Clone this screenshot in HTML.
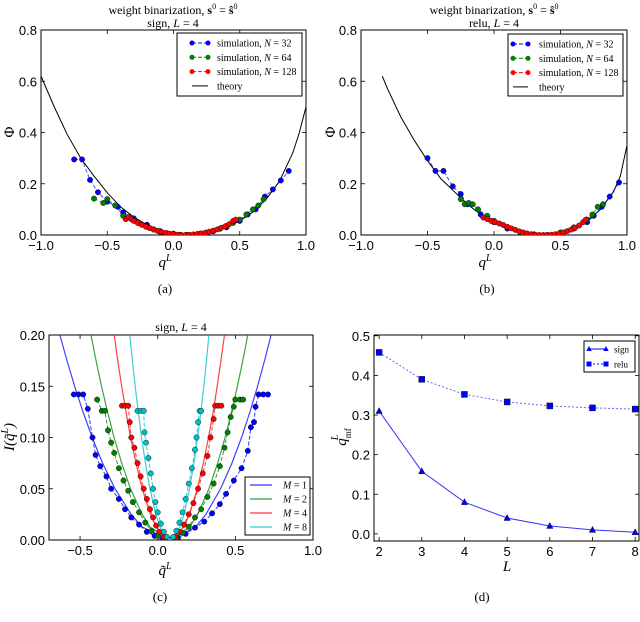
<!DOCTYPE html>
<html><head><meta charset="utf-8"><style>
body{margin:0;background:#fff;}
svg{display:block;}
text{font-family:"Liberation Sans",sans-serif;}
text.serif,.serif text,.serif tspan{font-family:"Liberation Serif",serif;}
</style></head><body>
<svg id="fig" width="640" height="622" viewBox="0 0 640 622" xmlns="http://www.w3.org/2000/svg">
<g class="serif" font-size="12" text-anchor="middle" fill="#000">
<text x="173" y="14">weight binarization, <tspan font-weight="bold">s</tspan><tspan font-size="8" dy="-5">0</tspan><tspan dy="5"> = </tspan><tspan font-weight="bold">ŝ</tspan><tspan font-size="8" dy="-5">0</tspan></text>
<text x="173" y="27">sign, <tspan font-style="italic">L</tspan> = 4</text>
<text x="494" y="14">weight binarization, <tspan font-weight="bold">s</tspan><tspan font-size="8" dy="-5">0</tspan><tspan dy="5"> = </tspan><tspan font-weight="bold">ŝ</tspan><tspan font-size="8" dy="-5">0</tspan></text>
<text x="494" y="27">relu, <tspan font-style="italic">L</tspan> = 4</text>
<text x="181" y="331">sign, <tspan font-style="italic">L</tspan> = 4</text>
<text x="165" y="293" font-size="13">(a)</text>
<text x="487" y="293" font-size="13">(b)</text>
<text x="160" y="601" font-size="13">(c)</text>
<text x="482" y="601" font-size="13">(d)</text>
<text x="165" y="267" font-size="15" font-style="italic">q<tspan font-size="10" dy="-6">L</tspan></text>
<text x="485" y="267" font-size="15" font-style="italic">q<tspan font-size="10" dy="-6">L</tspan></text>
<text transform="translate(14,132) rotate(-90)" font-size="15">Φ</text>
<text transform="translate(335,132) rotate(-90)" font-size="15">Φ</text>
<text x="165" y="575" font-size="15" font-style="italic">q̃<tspan font-size="10" dy="-6">L</tspan></text>
<text transform="translate(14,437) rotate(-90)" font-size="15" font-style="italic">I(q̃<tspan font-size="10" dy="-6">L</tspan><tspan dy="6">)</tspan></text>
<text x="507" y="571" font-size="15" font-style="italic">L</text>
<text transform="translate(346,437) rotate(-90)" font-size="15" font-style="italic">q<tspan font-size="9" dy="5" font-style="normal">mf</tspan><tspan font-size="10" dx="-12" dy="-13">L</tspan></text>
</g>
</svg>
<script>
// ---- Panel (a) data ----
const aTheoryQ=[-1,-0.9,-0.8,-0.7,-0.6,-0.5,-0.4,-0.3,-0.2,-0.1,0,0.1,0.2,0.3,0.4,0.5,0.6,0.7,0.8,0.9,0.95,1.0];
const aTheoryPhi=[0.62,0.5,0.39,0.3,0.23,0.165,0.11,0.07,0.04,0.018,0.005,0,0.003,0.013,0.03,0.055,0.09,0.14,0.21,0.32,0.4,0.5];
const aN32Q=[-0.75,-0.69,-0.63,-0.57,-0.5,-0.42,-0.38,-0.3,-0.2,-0.1,0,0.1,0.2,0.3,0.4,0.5,0.56,0.62,0.69,0.75,0.81,0.87];
const aN32Phi=[0.295,0.295,0.215,0.167,0.13,0.11,0.088,0.065,0.04,0.015,0.005,0,0.005,0.015,0.03,0.055,0.08,0.1,0.15,0.178,0.213,0.25];
const aN64Q=[-0.6,-0.53,-0.5,-0.44,-0.38,-0.3,-0.25,-0.2,-0.15,-0.1,-0.05,0,0.05,0.1,0.15,0.2,0.25,0.3,0.35,0.4,0.45,0.5,0.55,0.6,0.64,0.68];
const aN64Phi=[0.142,0.125,0.14,0.115,0.075,0.058,0.045,0.032,0.022,0.013,0.007,0.003,0.001,0,0.001,0.004,0.009,0.015,0.024,0.035,0.047,0.06,0.08,0.1,0.115,0.14];
const aN128Q=[-0.36,-0.34,-0.32,-0.3,-0.27,-0.24,-0.21,-0.18,-0.15,-0.12,-0.09,-0.06,-0.03,0,0.03,0.06,0.09,0.12,0.15,0.18,0.21,0.24,0.27,0.3,0.33,0.36,0.39,0.42,0.45,0.47];
const aN128Phi=[0.062,0.07,0.062,0.055,0.047,0.04,0.033,0.027,0.021,0.016,0.012,0.008,0.005,0.003,0.001,0,0,0.001,0.002,0.004,0.006,0.009,0.013,0.017,0.022,0.028,0.034,0.042,0.055,0.06];
// ---- Panel (b) data ----
const bTheoryQ=[-0.84,-0.8,-0.7,-0.6,-0.5,-0.4,-0.3,-0.2,-0.1,0,0.1,0.2,0.3,0.37,0.45,0.5,0.6,0.7,0.8,0.9,0.95,1.0];
const bTheoryPhi=[0.62,0.57,0.46,0.37,0.29,0.22,0.17,0.12,0.08,0.05,0.028,0.012,0.003,0,0.003,0.008,0.025,0.055,0.1,0.17,0.23,0.35];
const bN32Q=[-0.5,-0.44,-0.38,-0.31,-0.25,-0.2,-0.1,0,0.1,0.2,0.3,0.4,0.5,0.6,0.7,0.75,0.81,0.87,0.94];
const bN32Phi=[0.3,0.25,0.25,0.19,0.16,0.12,0.08,0.05,0.025,0.01,0.002,0,0.008,0.025,0.05,0.075,0.11,0.15,0.205];
const bN64Q=[-0.25,-0.22,-0.19,-0.16,-0.12,-0.05,0,0.1,0.2,0.3,0.4,0.5,0.6,0.7,0.74,0.78,0.82];
const bN64Phi=[0.14,0.12,0.125,0.12,0.1,0.075,0.055,0.03,0.01,0.002,0,0.01,0.03,0.06,0.08,0.11,0.12];
const bN128Q=[-0.08,-0.05,-0.02,0.01,0.04,0.07,0.1,0.13,0.16,0.19,0.22,0.25,0.28,0.31,0.34,0.37,0.4,0.43,0.46,0.49,0.52,0.55,0.58,0.61,0.64,0.67,0.69];
const bN128Phi=[0.068,0.062,0.055,0.05,0.045,0.039,0.032,0.026,0.02,0.014,0.01,0.006,0.003,0.001,0,0,0,0.001,0.003,0.006,0.01,0.015,0.021,0.028,0.037,0.05,0.06];
// ---- Panel (c) data ----
const cLevels=[0.2,0.175,0.15,0.125,0.1,0.075,0.05,0.025,0.0125,0,0.0125,0.025,0.05,0.075,0.1,0.125,0.15,0.175,0.2];
const cM1X=[-0.63,-0.584,-0.535,-0.481,-0.422,-0.355,-0.275,-0.171,-0.098,0.08,0.243,0.31,0.405,0.478,0.54,0.594,0.643,0.688,0.73];
const cM2X=[-0.43,-0.397,-0.362,-0.323,-0.281,-0.232,-0.175,-0.1,-0.048,0.08,0.205,0.257,0.33,0.386,0.434,0.475,0.513,0.548,0.58];
const cM4X=[-0.28,-0.257,-0.232,-0.204,-0.175,-0.14,-0.1,-0.047,-0.01,0.08,0.168,0.204,0.255,0.294,0.327,0.357,0.383,0.407,0.43];
const cM8X=[-0.18,-0.163,-0.145,-0.125,-0.104,-0.079,-0.05,-0.012,0.015,0.08,0.143,0.169,0.205,0.233,0.257,0.278,0.297,0.314,0.33];
const cS1X=[-0.54,-0.51,-0.48,-0.45,-0.42,-0.4,-0.37,-0.33,-0.3,-0.25,-0.21,-0.17,-0.12,-0.07,-0.02,0.03,0.08,0.13,0.18,0.24,0.3,0.35,0.4,0.44,0.49,0.54,0.58,0.6,0.62,0.63,0.65,0.68,0.71];
const cS1Y=[0.142,0.142,0.142,0.128,0.1,0.083,0.072,0.062,0.05,0.04,0.03,0.022,0.015,0.008,0.004,0.001,0,0.002,0.006,0.012,0.018,0.026,0.035,0.045,0.058,0.07,0.087,0.11,0.115,0.13,0.142,0.142,0.142];
const cS2X=[-0.39,-0.36,-0.34,-0.32,-0.3,-0.28,-0.25,-0.22,-0.19,-0.16,-0.12,-0.08,-0.04,0,0.04,0.08,0.12,0.16,0.2,0.24,0.28,0.32,0.36,0.4,0.43,0.45,0.47,0.49,0.5,0.53,0.55];
const cS2Y=[0.137,0.126,0.126,0.107,0.095,0.085,0.07,0.058,0.048,0.037,0.027,0.017,0.009,0.004,0.001,0,0.002,0.007,0.013,0.022,0.03,0.042,0.055,0.072,0.09,0.105,0.12,0.13,0.137,0.137,0.137];
const cS4X=[-0.23,-0.21,-0.19,-0.18,-0.17,-0.15,-0.13,-0.11,-0.09,-0.07,-0.05,-0.03,-0.01,0.01,0.04,0.08,0.11,0.14,0.17,0.2,0.23,0.26,0.29,0.32,0.34,0.36,0.37,0.39,0.41];
const cS4Y=[0.131,0.131,0.131,0.115,0.1,0.09,0.075,0.062,0.05,0.04,0.03,0.022,0.014,0.008,0.003,0,0.003,0.008,0.015,0.025,0.036,0.05,0.065,0.082,0.1,0.118,0.131,0.131,0.131];
const cS8X=[-0.13,-0.11,-0.09,-0.085,-0.075,-0.06,-0.045,-0.03,-0.015,0,0.02,0.04,0.06,0.08,0.1,0.12,0.14,0.16,0.18,0.2,0.22,0.24,0.25,0.26,0.27,0.28];
const cS8Y=[0.126,0.126,0.126,0.105,0.095,0.08,0.065,0.05,0.037,0.027,0.016,0.008,0.003,0,0.003,0.009,0.017,0.027,0.04,0.055,0.07,0.088,0.1,0.115,0.126,0.126];
// ---- Panel (d) data ----
const dL=[2,3,4,5,6,7,8];
const dSign=[0.31,0.158,0.08,0.04,0.02,0.01,0.004];
const dRelu=[0.458,0.39,0.352,0.333,0.323,0.318,0.315];

const NS='http://www.w3.org/2000/svg';
const svg=document.getElementById('fig');
function mk(tag,attrs,parent){const e=document.createElementNS(NS,tag);for(const k in attrs)e.setAttribute(k,attrs[k]);(parent||svg).appendChild(e);return e;}
function axes(name,px0,px1,py0,py1,xmin,xmax,ymin,ymax,xt,xl,yt,yl){
  const sx=v=>px0+(v-xmin)/(xmax-xmin)*(px1-px0);
  const sy=v=>py1-(v-ymin)/(ymax-ymin)*(py1-py0);
  const g=mk('g',{});
  
  
  const clip=mk('clipPath',{id:'clip-'+name});
  mk('rect',{x:px0,y:py0,width:px1-px0,height:py1-py0},clip);
  const plot=mk('g',{'clip-path':'url(#clip-'+name+')'});
  
  
  xt.forEach((v,i)=>{const x=sx(v);
    mk('line',{x1:x,x2:x,y1:py1,y2:py1-4,stroke:'#000','stroke-width':0.8},g);
    mk('line',{x1:x,x2:x,y1:py0,y2:py0+4,stroke:'#000','stroke-width':0.8},g);
    const t=mk('text',{x:x,y:py1+15,'font-size':13,'text-anchor':'middle'},g);t.textContent=xl[i];
    
    });
  yt.forEach((v,i)=>{const y=sy(v);
    mk('line',{x1:px0,x2:px0+4,y1:y,y2:y,stroke:'#000','stroke-width':0.8},g);
    mk('line',{x1:px1,x2:px1-4,y1:y,y2:y,stroke:'#000','stroke-width':0.8},g);
    const t=mk('text',{x:px0-4,y:y+5,'font-size':13,'text-anchor':'end'},g);t.textContent=yl[i];
    
    });
  mk('rect',{x:px0,y:py0,width:px1-px0,height:py1-py0,fill:'none',stroke:'#000','stroke-width':1},g);
  return {sx,sy,plot};
}
function line(ax,xs,ys,color,dash,w,op,name){
  const p=mk('polyline',{points:xs.map((x,i)=>ax.sx(x)+','+ax.sy(ys[i])).join(' '),fill:'none',stroke:color,'stroke-width':w||1,'stroke-dasharray':dash||'none','stroke-opacity':op||1},ax.plot);
  
  
}
function pts(ax,xs,ys,color,name,shape){
  xs.forEach((x,i)=>{let m;
    if(shape==='sq')m=mk('rect',{x:ax.sx(x)-3,y:ax.sy(ys[i])-3,width:6,height:6,fill:color,stroke:'#000','stroke-width':0.4},ax.plot);
    else if(shape==='tri'){const cx=ax.sx(x),cy=ax.sy(ys[i]);m=mk('polygon',{points:`${cx},${cy-3.5} ${cx-3.2},${cy+2.5} ${cx+3.2},${cy+2.5}`,fill:color,stroke:'#000','stroke-width':0.4},ax.plot);}
    else m=mk('circle',{cx:ax.sx(x),cy:ax.sy(ys[i]),r:2.7,fill:color,stroke:'#000','stroke-width':0.4},ax.plot);
    
    });
}
function legend(name,x,y,w,h,entries,lx0,lx1,tx,dy,fs){
  const g=mk('g',{});
  
  
  mk('rect',{x:x,y:y,width:w,height:h,fill:'#fff',stroke:'#000','stroke-width':1},g);
  entries.forEach((e,i)=>{const yy=y+dy[0]+i*dy[1];
    mk('line',{x1:lx0,x2:lx1,y1:yy,y2:yy,stroke:e.c,'stroke-width':1,'stroke-dasharray':e.d||'none'},g);
    if(e.m){[lx0,lx1].forEach(xx=>{
      if(e.m==='sq')mk('rect',{x:xx-2.5,y:yy-2.5,width:5,height:5,fill:e.c},g);
      else if(e.m==='tri')mk('polygon',{points:`${xx},${yy-3} ${xx-2.7},${yy+2} ${xx+2.7},${yy+2}`,fill:e.c},g);
      else mk('circle',{cx:xx,cy:yy,r:2.5,fill:e.c},g);});}
    const t=mk('text',{x:tx,y:yy+3.5,'font-size':fs,'class':'serif'},g);t.innerHTML=e.t;
    
    });
}
const B='#0000ff',G='#008000',R='#ff0000',C='#00bfbf';
const qt=[-1,-0.5,0,0.5,1],ql=['\u22121.0','\u22120.5','0.0','0.5','1.0'];
const pt=[0,0.2,0.4,0.6,0.8],pl=['0.0','0.2','0.4','0.6','0.8'];
const simLeg=[{c:B,d:'4,2',m:'o',t:'simulation, <tspan font-style="italic">N</tspan> = 32'},{c:G,d:'4,2',m:'o',t:'simulation, <tspan font-style="italic">N</tspan> = 64'},{c:R,d:'4,2',m:'o',t:'simulation, <tspan font-style="italic">N</tspan> = 128'},{c:'#000',t:'theory'}];

// (a)
const A=axes('panel-a',41,306,30,235,-1,1,0,0.8,qt,ql,pt,pl);
line(A,aTheoryQ,aTheoryPhi,'#000',null,1,1,'theory-curve-a');
line(A,aN32Q,aN32Phi,B,'4,2',1,0.7,'sim-line-a-n32');pts(A,aN32Q,aN32Phi,B,'sim-point-a-n32');
line(A,aN64Q,aN64Phi,G,'4,2',1,0.7,'sim-line-a-n64');pts(A,aN64Q,aN64Phi,G,'sim-point-a-n64');
line(A,aN128Q,aN128Phi,R,'4,2',1,0.7,'sim-line-a-n128');pts(A,aN128Q,aN128Phi,R,'sim-point-a-n128');
legend('legend-a',177,33,125,63,simLeg,192,208,217,[10,14.3],10);
// (b)
const Bx=axes('panel-b',361,627,30,235,-1,1,0,0.8,qt,ql,pt,pl);
line(Bx,bTheoryQ,bTheoryPhi,'#000',null,1,1,'theory-curve-b');
line(Bx,bN32Q,bN32Phi,B,'4,2',1,0.7,'sim-line-b-n32');pts(Bx,bN32Q,bN32Phi,B,'sim-point-b-n32');
line(Bx,bN64Q,bN64Phi,G,'4,2',1,0.7,'sim-line-b-n64');pts(Bx,bN64Q,bN64Phi,G,'sim-point-b-n64');
line(Bx,bN128Q,bN128Phi,R,'4,2',1,0.7,'sim-line-b-n128');pts(Bx,bN128Q,bN128Phi,R,'sim-point-b-n128');
legend('legend-b',508,34,115,62,simLeg,513,528,539,[10,14.3],10);
// (c)
const Cx=axes('panel-c',49,313,335,540,-0.7,1.0,0,0.2,[-0.5,0,0.5,1.0],['\u22120.5','0.0','0.5','1.0'],[0,0.05,0.1,0.15,0.2],['0.00','0.05','0.10','0.15','0.20']);
[[cM1X,B,'m1'],[cM2X,G,'m2'],[cM4X,R,'m4'],[cM8X,C,'m8']].forEach(([xs,c,n])=>line(Cx,xs,cLevels,c,null,1.2,0.75,'theory-curve-'+n));
[[cS1X,cS1Y,B,'m1'],[cS2X,cS2Y,G,'m2'],[cS4X,cS4Y,R,'m4'],[cS8X,cS8Y,C,'m8']].forEach(([xs,ys,c,n])=>{line(Cx,xs,ys,c,'4,2',1,0.8,'sim-line-'+n);pts(Cx,xs,ys,c,'sim-point-'+n);});
legend('legend-c',245,477,65,58,[{c:B,t:'<tspan font-style="italic">M</tspan> = 1'},{c:G,t:'<tspan font-style="italic">M</tspan> = 2'},{c:R,t:'<tspan font-style="italic">M</tspan> = 4'},{c:C,t:'<tspan font-style="italic">M</tspan> = 8'}],250,272,283,[8,14],10);
// (d)
const Dx=axes('panel-d',374,639,335,541,1.88,8.09,-0.018,0.502,dL,dL.map(String),[0,0.1,0.2,0.3,0.4,0.5],['0.0','0.1','0.2','0.3','0.4','0.5']);
line(Dx,dL,dSign,B,null,1,0.8,'sign-line');pts(Dx,dL,dSign,B,'sign-point','tri');
line(Dx,dL,dRelu,B,'2,2',1,0.6,'relu-line');pts(Dx,dL,dRelu,B,'relu-point','sq');
legend('legend-d',584,341,51,31,[{c:B,m:'tri',t:'sign'},{c:B,d:'2,2',m:'sq',t:'relu'}],589,606,614,[8,15],9);
</script>
</body></html>
